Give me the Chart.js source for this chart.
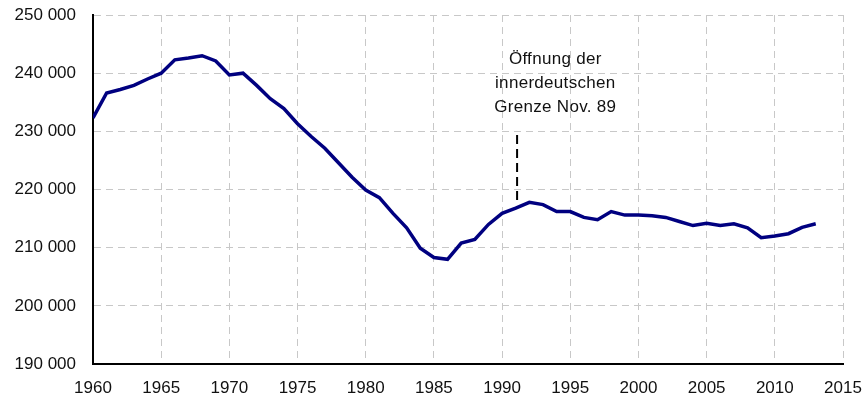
<!DOCTYPE html>
<html>
<head>
<meta charset="utf-8">
<script src="https://cdn.jsdelivr.net/npm/chart.js@4/dist/chart.umd.min.js"></script>
<style>
    html, body { margin: 0; padding: 0; background: #fff; }
    #wrap { width: 864px; height: 405px; position: relative; }
</style>
</head>
<body>
<div id="wrap"><canvas id="lineChart"></canvas></div>
<script>
// Data
const years = [1960, 1961, 1962, 1963, 1964, 1965, 1966, 1967, 1968, 1969,
    1970, 1971, 1972, 1973, 1974, 1975, 1976, 1977, 1978, 1979,
    1980, 1981, 1982, 1983, 1984, 1985, 1986, 1987, 1988, 1989,
    1990, 1991, 1992, 1993, 1994, 1995, 1996, 1997, 1998, 1999,
    2000, 2001, 2002, 2003, 2004, 2005, 2006, 2007, 2008, 2009,
    2010, 2011, 2012, 2013];
const values = [232300, 236600, 237200, 237900, 239000, 240000, 242300, 242600, 243000, 242100,
    239700, 240000, 237900, 235600, 233900, 231300, 229100, 227100, 224600, 222100,
    219900, 218600, 215900, 213400, 209900, 208300, 208000, 210800, 211400, 214000,
    215900, 216800, 217800, 217400, 216200, 216200, 215200, 214800, 216200, 215600,
    215600, 215500, 215200, 214500, 213800, 214200, 213800, 214100, 213400, 211700,
    212000, 212400, 213500, 214100];
const xTicks = [1960, 1965, 1970, 1975, 1980, 1985, 1990, 1995, 2000, 2005, 2010, 2015];
const yTicks = [190000, 200000, 210000, 220000, 230000, 240000, 250000];

// Annotation
const noteLines = ['Öffnung der', 'innerdeutschen', 'Grenze Nov. 89'];
const noteX = [1991.1, 1991.1];
const noteY = [218200, 229500];
const noteTextYear = 1993.9;
const noteTextValue = 242300;

const fmt = v => String(v).replace(/\B(?=(\d{3})+(?!\d))/g, ' ');

const notePlugin = {
    id: 'note',
    afterDatasetsDraw(chart) {
        const ctx = chart.ctx;
        const x = chart.scales.x.getPixelForValue(noteTextYear);
        const y = chart.scales.y.getPixelForValue(noteTextValue);
        ctx.save();
        ctx.font = '17px "Liberation Sans", Arial, sans-serif';
        ctx.letterSpacing = '0.3px';
        ctx.fillStyle = '#111';
        ctx.textAlign = 'center';
        ctx.textBaseline = 'middle';
        noteLines.forEach((t, i) => ctx.fillText(t, x, y + i * 24));
        ctx.restore();
    }
};

const gridStyle = { color: '#c8c8c8', lineWidth: 1, drawTicks: false };
const tickFont = { family: '"Liberation Sans", Arial, sans-serif', size: 17 };

new Chart(document.getElementById('lineChart').getContext('2d'), {
    type: 'line',
    data: {
        datasets: [{
            data: years.map((yr, i) => ({ x: yr, y: values[i] })),
            borderColor: '#000080',
            borderWidth: 3.5,
            pointRadius: 0,
            tension: 0,
            fill: false
        }, {
            data: noteX.map((v, i) => ({ x: v, y: noteY[i] })),
            borderColor: '#000',
            borderWidth: 2,
            borderDash: [9, 5],
            pointRadius: 0,
            fill: false
        }]
    },
    options: {
        responsive: true,
        maintainAspectRatio: false,
        animation: false,
        layout: { padding: { top: 15, right: 21, left: 5, bottom: 0 } },
        plugins: {
            legend: { display: false },
            tooltip: { enabled: false }
        },
        scales: {
            x: {
                type: 'linear',
                min: 1960,
                max: 2015,
                afterBuildTicks: s => { s.ticks = xTicks.map(v => ({ value: v })); },
                afterFit: s => { s.height = 41; s.paddingLeft = 0; s.paddingRight = 0; },
                grid: gridStyle,
                border: { display: true, color: '#000', width: 2, dash: [7, 5] },
                ticks: {
                    padding: 14,
                    color: '#111',
                    font: tickFont,
                    maxRotation: 0,
                    callback: v => String(v)
                }
            },
            y: {
                min: 190000,
                max: 250000,
                afterBuildTicks: s => { s.ticks = yTicks.map(v => ({ value: v })); },
                afterFit: s => { s.width = 88; s.paddingTop = 0; s.paddingBottom = 0; },
                grid: gridStyle,
                border: { display: true, color: '#000', width: 2, dash: [7, 5] },
                ticks: {
                    padding: 17,
                    color: '#111',
                    font: tickFont,
                    callback: v => fmt(v)
                }
            }
        }
    },
    plugins: [notePlugin]
});
</script>
</body>
</html>
